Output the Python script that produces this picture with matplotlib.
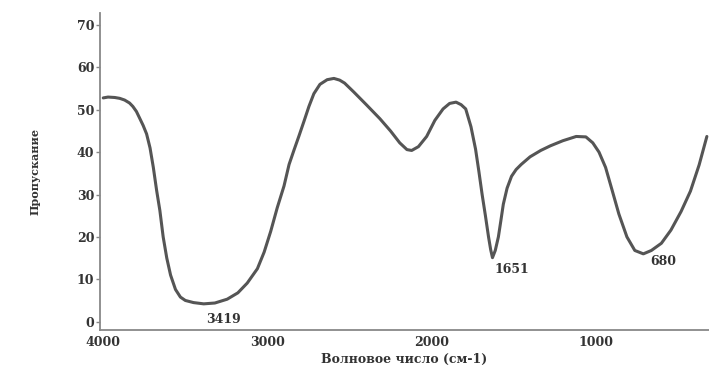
import numpy as np
import matplotlib.pyplot as plt

# IR spectrum, values
wavenumber = [4000, 3971, 3930, 3900, 3870, 3840, 3820, 3798, 3778, 3757, 3736, 3715,
              3695, 3675, 3655, 3635, 3613, 3590, 3560, 3530, 3500, 3450, 3388, 3320,
              3245, 3180, 3123, 3061, 3020, 2980, 2940, 2899, 2868, 2838, 2808, 2778,
              2747, 2717, 2680, 2636, 2595, 2560, 2530, 2474, 2400, 2315, 2250, 2194,
              2150, 2121, 2080, 2030, 1980, 1930, 1890, 1851, 1820, 1792, 1760, 1732,
              1712, 1692, 1672, 1653, 1640, 1629, 1612, 1593, 1578, 1563, 1540, 1513,
              1485, 1454, 1400, 1335, 1276, 1200, 1119, 1060, 1018, 980, 940, 900,
              859, 810, 762, 710, 661, 600, 542, 480, 423, 370, 323]
transmittance = [52.8, 53.0, 52.9, 52.7, 52.3, 51.6, 50.8, 49.6, 48.0, 46.3, 44.3, 41.0,
                 36.4, 31.0, 26.2, 20.0, 15.0, 11.0, 7.6, 5.8, 5.0, 4.5, 4.2, 4.4,
                 5.3, 6.8, 9.1, 12.5, 16.4, 21.3, 26.9, 32.0, 37.1, 40.5, 43.8, 47.2,
                 50.8, 53.8, 56.0, 57.1, 57.4, 57.0, 56.3, 54.2, 51.3, 47.9, 45.0, 42.2,
                 40.6, 40.4, 41.3, 43.7, 47.5, 50.2, 51.5, 51.8, 51.2, 50.2, 46.0, 40.7,
                 35.5, 30.0, 25.0, 20.0, 17.0, 15.1, 16.8, 20.0, 23.8, 27.7, 31.5, 34.3,
                 35.9, 37.1, 38.9, 40.4, 41.5, 42.7, 43.7, 43.6, 42.2, 40.0, 36.4, 31.0,
                 25.4, 20.0, 16.8, 16.0, 16.8, 18.5, 21.6, 26.0, 30.8, 37.0, 43.7]

peak_labels = ['3419', '1651', '680']
label_x = [3266, 1512, 589]
label_y = [0.4, 12.3, 14.2]

serif = {'family': 'DejaVu Serif', 'weight': 'bold', 'color': '#333333'}

fig = plt.figure(figsize=(7.09, 3.76), dpi=100)
ax = fig.add_axes([0.141, 0.122, 0.859, 0.843])

ax.plot(wavenumber, transmittance, color='#555555', lw=2.2, solid_capstyle='round',
        solid_joinstyle='round')

for s, x, y in zip(peak_labels, label_x, label_y):
    ax.text(x, y, s, ha='center', va='center', fontsize=9, **serif)

ax.set_xlim(4020, 310)
ax.set_ylim(-2, 72.8)
ax.set_xticks([4000, 3000, 2000, 1000])
ax.set_yticks(range(0, 80, 10))

for side in ['top', 'right']:
    ax.spines[side].set_visible(False)
for side in ['left', 'bottom']:
    ax.spines[side].set_color('#888888')
    ax.spines[side].set_linewidth(1.3)

ax.tick_params(axis='y', length=3, width=1, color='#888888', pad=1)
ax.tick_params(axis='x', length=0, pad=4)
for lab in ax.get_xticklabels() + ax.get_yticklabels():
    lab.set_fontfamily('DejaVu Serif')
    lab.set_fontweight('bold')
    lab.set_fontsize(9)
    lab.set_color('#333333')

ax.set_xlabel('Волновое число (см-1)', fontsize=9, labelpad=3, **serif)
ax.set_ylabel('Пропускание', fontsize=8, labelpad=26, **serif)

plt.savefig('out.png', dpi=100)
